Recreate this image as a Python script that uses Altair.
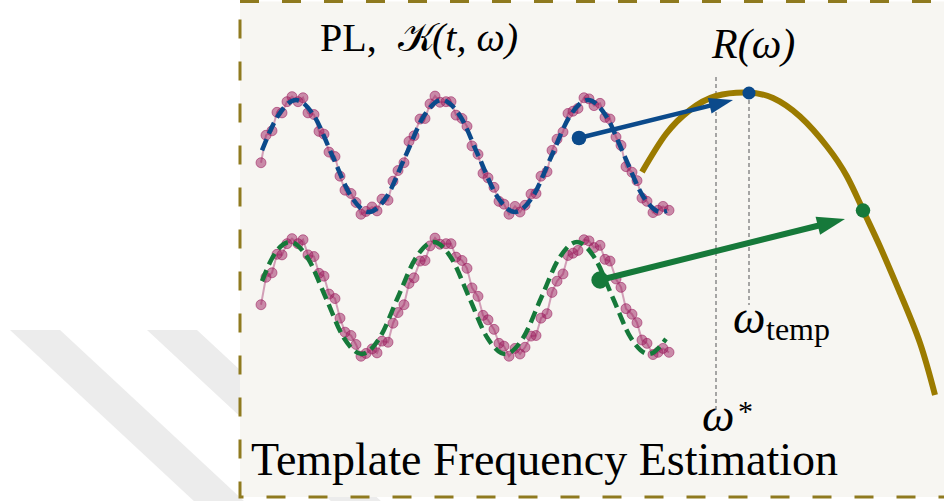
import math
import altair as alt
import pandas as pd

# ---------------- data ----------------
# observed light curve (same observations shown in both rows)
obs_t = [261, 266, 272, 277, 282, 287, 292, 298, 303, 308, 314, 319, 324, 329, 335,
         340, 345, 351, 356, 361, 366, 372, 377, 382, 388, 393, 398, 404, 409, 414,
         420, 425, 430, 435, 440, 446, 451, 456, 462, 467, 472, 478, 483, 488, 494,
         499, 504, 509, 515, 520, 525, 531, 536, 541, 547, 552, 557, 563, 568, 573,
         578, 584, 589, 594, 600, 605, 610, 616, 621, 626, 632, 637, 642, 647, 653,
         658, 663, 669]
obs_flux = [-0.12, 0.37, 0.45, 0.78, 0.77, 0.97, 1.06, 0.97, 1.04, 0.77,
            0.74, 0.44, 0.39, 0.07, -0.01, -0.36, -0.61, -0.67, -0.83, -1.04,
            -0.99, -0.91, -0.98, -0.77, -0.79, -0.45, -0.26, -0.12, 0.26, 0.36,
            0.66, 0.67, 0.93, 1.07, 0.96, 0.97, 0.97, 0.73, 0.67, 0.53,
            0.18, 0.03, -0.31, -0.39, -0.56, -0.81, -0.86, -1.04, -0.90, -1.00,
            -0.88, -0.68, -0.67, -0.36, -0.28, 0.10, 0.30, 0.43, 0.76, 0.80,
            0.85, 1.04, 1.02, 0.90, 0.94, 0.69, 0.66, 0.34, 0.19, -0.19,
            -0.29, -0.44, -0.75, -0.81, -1.01, -0.97, -0.90, -0.97]

# template at the best frequency (blue, top row)
blue_t = [262, 277.75, 296, 314.25, 332.5, 350.75, 369, 387.25, 405.5, 423.75, 442, 460.25,
          478.5, 496.75, 515, 533.25, 551.5, 569.75, 588, 606.25, 624.5, 642.75, 661, 667]
blue_val = [0.10, 0.71, 1, 0.71, 0, -0.71, -1, -0.71, 0, 0.71, 1, 0.71,
            0, -0.71, -1, -0.71, 0, 0.71, 1, 0.71, 0, -0.71, -1, -0.98]

# template at a wrong frequency (green, bottom row)
green_t = [262, 272.1, 290, 307.9, 325.9, 343.8, 361.8, 379.7, 397.6, 415.6, 433.5, 451.4,
           469.4, 487.3, 505.3, 523.2, 541.1, 559.1, 577, 594.9, 612.9, 630.8, 648.8, 666]
green_val = [0.30, 0.71, 1, 0.71, 0, -0.71, -1, -0.71, 0, 0.71, 1, 0.71,
             0, -0.71, -1, -0.71, 0, 0.71, 1, 0.71, 0, -0.71, -1, -0.73]

# R(omega) curve
r_omega = [642, 666, 690, 716, 748, 773, 800, 827, 847, 863, 880, 900, 920, 935]
r_value = [172, 134, 110, 96, 92.5, 98, 116.5, 146.5, 176.5, 210, 246.5, 293, 343, 395]

omega_star = 716
omega_temp = 749

# arrows: start dot -> point on the R curve
arrow_x0 = [579, 600]
arrow_y0 = [138, 280]
arrow_x1 = [733, 845]
arrow_y1 = [100, 219]
dot_x = [579, 600, 749, 863]
dot_y = [138, 280, 93, 210.5]

# labels: text, anchor x, baseline y, font size, italic?
label_text = ["PL,", "𝒦", "(t, ω)", "R(ω)", "ω", "temp", "ω", "*", "Template Frequency Estimation"]
label_x = [320, 398, 432, 712, 733, 766, 702, 738, 251]
label_y = [51, 51, 51, 58, 333, 340, 431, 421, 475]
label_size = [40, 40, 40, 42, 46, 32, 46, 30, 46]
label_italic = [False, False, True, True, True, False, True, False, False]

# ---------------- styling / layout ----------------
W, H = 944, 501
OLIVE = "#9b7b00"
BORDER = "#8f7a1f"
BLUE = "#0b4a8b"
GREEN = "#16793a"
MAROON = "#9b1e5e"
PANEL = "#f7f6f2"
SERIF = "Liberation Serif"
TOP_C, BOT_C, AMP = 156, 298, 56

xs = alt.Scale(domain=[0, W], nice=False, zero=False)
ys = alt.Scale(domain=[0, H], nice=False, zero=False, reverse=True)


def X(f="x"):
    return alt.X(f + ":Q", scale=xs, axis=None)


def Y(f="y"):
    return alt.Y(f + ":Q", scale=ys, axis=None)


# watermark stripes (parallelograms described as vertical slices)
wm_rows = []
slope = 0.93
for band, a in enumerate([10, 147]):
    b = a + 50
    top, bot = 330, 501
    xa = [a, b, a + (bot - top) / slope, b + (bot - top) / slope]
    for xv in xa:
        y_hi = max(top, min(bot, top + slope * (xv - b)))
        y_lo = max(top, min(bot, top + slope * (xv - a)))
        wm_rows.append({"x": xv, "y": y_hi, "y2": y_lo, "band": band})
wm = alt.Chart(pd.DataFrame(wm_rows)).mark_area(color="#ececec").encode(
    x=X(), y=Y(), y2=alt.Y2("y2:Q"), detail="band:N")

panel = alt.Chart(pd.DataFrame({"x": [240], "x2": [960], "y": [1.5], "y2": [497]})).mark_rect(
    fill=PANEL, stroke=BORDER, strokeWidth=3, strokeDash=[19, 23]).encode(
    x=X(), x2=alt.X2("x2:Q"), y=Y(), y2=alt.Y2("y2:Q"))

vlines = alt.Chart(pd.DataFrame({"x": [omega_star, omega_temp], "y": [77, 93], "y2": [410, 305]})).mark_rule(
    color="#7a7a7a", strokeWidth=1.3, strokeDash=[4, 3]).encode(x=X(), y=Y(), y2=alt.Y2("y2:Q"))

rcurve = alt.Chart(pd.DataFrame({"x": r_omega, "y": r_value})).mark_line(
    color=OLIVE, strokeWidth=6, interpolate="natural", strokeCap="butt").encode(x=X(), y=Y())

obs_rows = []
for row, c in [("top", TOP_C), ("bottom", BOT_C)]:
    for t, v in zip(obs_t, obs_flux):
        obs_rows.append({"x": t, "y": c - AMP * v, "row": row})
obs_df = pd.DataFrame(obs_rows)
obs_line = alt.Chart(obs_df).mark_line(color=MAROON, opacity=0.4, strokeWidth=2).encode(
    x=X(), y=Y(), detail="row:N")
obs_pts = alt.Chart(obs_df).mark_circle(
    color=MAROON, fillOpacity=0.5, stroke=MAROON, strokeOpacity=0.55, strokeWidth=1, size=100).encode(
    x=X(), y=Y())

blue_df = pd.DataFrame({"x": blue_t, "y": [TOP_C - AMP * v for v in blue_val]})
green_df = pd.DataFrame({"x": green_t, "y": [BOT_C - AMP * v for v in green_val]})
blue_model = alt.Chart(blue_df).mark_line(color=BLUE, strokeWidth=4.5, strokeDash=[12, 6],
                                          interpolate="monotone").encode(x=X(), y=Y())
green_model = alt.Chart(green_df).mark_line(color=GREEN, strokeWidth=4.5, strokeDash=[12, 6],
                                            interpolate="monotone").encode(x=X(), y=Y())

# arrows
arr_rows, head_rows = [], []
for x0, y0, x1, y1, col, w, hl in zip(arrow_x0, arrow_y0, arrow_x1, arrow_y1,
                                      [BLUE, GREEN], [4.5, 6], [24, 28]):
    dx, dy = x1 - x0, y1 - y0
    L = math.hypot(dx, dy)
    ux, uy = dx / L, dy / L
    arr_rows.append({"x": x0, "y": y0, "x2": x1 - 0.85 * hl * ux, "y2": y1 - 0.85 * hl * uy,
                     "c": col, "w": w})
    ang = math.degrees(math.atan2(dy, dx)) % 360
    head_rows.append({"x": x1, "y": y1, "c": col, "a": ang, "s": (2 * hl) ** 2})
arrows = alt.Chart(pd.DataFrame(arr_rows)).mark_rule(strokeCap="butt").encode(
    x=X(), y=Y(), x2=alt.X2("x2:Q"), y2=alt.Y2("y2:Q"),
    color=alt.Color("c:N", scale=None), strokeWidth=alt.StrokeWidth("w:Q", scale=None))
heads = alt.Chart(pd.DataFrame(head_rows)).mark_point(
    shape="M0,0L-1,-0.33L-1,0.33Z", filled=True, opacity=1, strokeWidth=0).encode(
    x=X(), y=Y(), color=alt.Color("c:N", scale=None), angle=alt.Angle("a:Q", scale=None),
    size=alt.Size("s:Q", scale=None))

dots = alt.Chart(pd.DataFrame({"x": dot_x, "y": dot_y, "c": [BLUE, GREEN, BLUE, GREEN],
                               "s": [215, 300, 170, 210]})).mark_circle(opacity=1).encode(
    x=X(), y=Y(), color=alt.Color("c:N", scale=None), size=alt.Size("s:Q", scale=None))

# labels: one text layer per label so the font settings are static mark properties
texts = []
for t, lx, ly, fs, it in zip(label_text, label_x, label_y, label_size, label_italic):
    kw = dict(font=SERIF, fontSize=fs, align="left", baseline="alphabetic", color="black")
    if it:
        kw["fontStyle"] = "italic"
    texts.append(alt.Chart(pd.DataFrame({"x": [lx], "y": [ly], "t": [t]})).mark_text(**kw).encode(
        x=X(), y=Y(), text="t:N"))

chart = alt.layer(
    wm, panel, vlines, rcurve, obs_line, obs_pts, blue_model, green_model,
    arrows, heads, dots, *texts
).properties(
    width=W, height=H, autosize="none", padding=0, background="white"
).configure_view(stroke=None)

chart.save("out.html", embed_options={"renderer": "svg", "actions": False})
